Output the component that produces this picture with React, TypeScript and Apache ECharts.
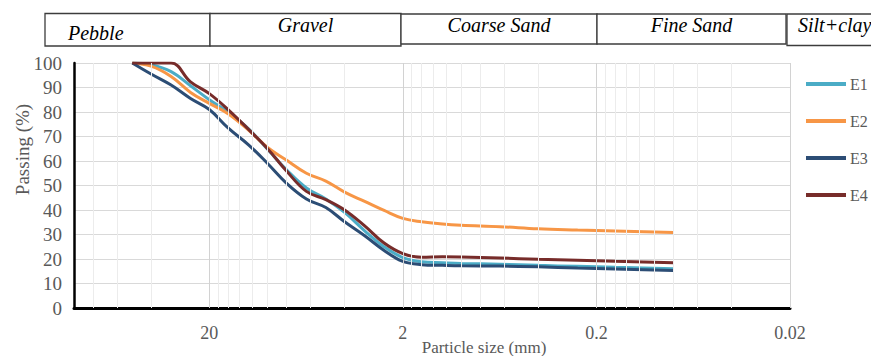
import React, { useEffect, useRef } from "react";
import * as echarts from "echarts";

// Sieve sizes (mm)
const SIZES = [50, 40, 31.5, 25, 20, 16, 12.5, 10, 8, 6.3, 5, 4, 3.15, 2.5, 2, 1.6, 1.25, 1, 0.63, 0.4, 0.25, 0.16, 0.08];
// Passing (%)
const E1 = [100, 99.3, 96.5, 90.7, 85, 80, 73, 64.8, 56.5, 49, 44.5, 39, 31.5, 25, 20.6, 18.9, 18.5, 18.2, 17.9, 17.4, 17, 16.6, 16];
const E2 = [100, 98.7, 94.5, 88, 83.5, 79.3, 72.5, 65.5, 60.4, 55, 51.8, 47.3, 43.5, 39.8, 36.6, 35.2, 34.3, 33.8, 33.2, 32.3, 31.8, 31.4, 30.8];
const E3 = [100, 95.5, 91, 85.5, 81, 73.5, 66.5, 59, 51, 44.5, 41, 35.2, 29.5, 23.5, 19, 17.7, 17.4, 17.2, 17.1, 16.8, 16.3, 15.9, 15.3];
const E4 = [100, 100, 100, 92.3, 87.5, 81, 72.8, 65, 56, 47.6, 44.2, 40, 33.5, 26.5, 22.2, 20.7, 20.9, 20.8, 20.4, 19.9, 19.5, 19.1, 18.5];

const SERIES_NAMES = ["E1", "E2", "E3", "E4"];
const X_LABELS = [20, 2, 0.2, 0.02];
const MAJOR_GRID = [20, 2, 0.2, 0.02];
const MINOR_GRID = [80, 60, 40, 18, 16, 14, 12, 10, 8, 6, 4, 1.8, 1.6, 1.4, 1.2, 1, 0.8, 0.6, 0.4, 0.18, 0.16, 0.14, 0.12, 0.1, 0.08, 0.06, 0.04];
const ZONES = ["Pebble", "Gravel", "Coarse Sand", "Fine Sand", "Silt+clay"];

const COLORS = ["#4bacc6", "#f79646", "#2c4d75", "#772c2a"];
const SERIF = '"Liberation Serif", "Times New Roman", serif';

export default function App() {
  const ref = useRef<HTMLDivElement>(null);

  useEffect(() => {
    const chart = echarts.init(ref.current!, null, { renderer: "svg" });
    const seriesData = [E1, E2, E3, E4];

    const boxes = [
      { x: 45, y: 13.5, w: 165, h: 32.5, tx: 68, ty: 33, align: "left" },
      { x: 210, y: 13.5, w: 191, h: 32.5, tx: 305.5, ty: 25, align: "center" },
      { x: 401, y: 14, w: 196, h: 30, tx: 499, ty: 25, align: "center" },
      { x: 597, y: 14, w: 189, h: 30, tx: 691.5, ty: 25, align: "center" },
      { x: 787, y: 14, w: 100, h: 31.5, tx: 798, ty: 25, align: "left" },
    ];
    const graphic: any[] = [];
    boxes.forEach((b, i) => {
      graphic.push({
        type: "rect",
        silent: true,
        shape: { x: b.x, y: b.y, width: b.w, height: b.h },
        style: { fill: "#fff", stroke: "#3c3c3c", lineWidth: 1.3 },
      });
      graphic.push({
        type: "text",
        silent: true,
        x: b.tx,
        y: b.ty,
        style: {
          text: ZONES[i],
          font: `italic 20px ${SERIF}`,
          fill: "#000",
          align: b.align,
          textAlign: b.align,
          verticalAlign: "middle",
          textVerticalAlign: "middle",
        },
      });
    });

    const series: any[] = seriesData.map((d, i) => ({
      name: SERIES_NAMES[i],
      type: "line",
      data: SIZES.map((s, j) => [s, d[j]]),
      smooth: 0.4,
      symbol: "none",
      lineStyle: { width: 3, color: COLORS[i] },
      itemStyle: { color: COLORS[i] },
      z: 3,
    }));
    series.unshift({
      type: "line",
      name: "grid",
      data: [],
      silent: true,
      z: 1,
      markLine: {
        silent: true,
        symbol: "none",
        animation: false,
        label: { show: false },
        data: [
          ...MINOR_GRID.map((v) => ({ xAxis: v, lineStyle: { color: "#ececec", width: 1, type: "solid" } })),
          ...MAJOR_GRID.map((v) => ({ xAxis: v, lineStyle: { color: "#d2d2d2", width: 1, type: "solid" } })),
        ],
      },
    });

    chart.setOption({
      animation: false,
      textStyle: { fontFamily: SERIF },
      grid: { left: 74, right: 81, top: 63, bottom: 48, containLabel: false, outerBoundsMode: "none" },
      legend: {
        orient: "vertical",
        left: 806,
        top: 76,
        padding: 0,
        itemWidth: 40,
        itemHeight: 4,
        itemGap: 21,
        icon: "rect",
        data: SERIES_NAMES,
        textStyle: { fontFamily: SERIF, fontSize: 16, color: "#595959", lineHeight: 16, padding: [0, 0, 0, -1] },
      },
      xAxis: {
        type: "log",
        logBase: 10,
        min: 0.02,
        max: 100,
        inverse: true,
        axisLine: { show: true, onZero: false, lineStyle: { color: "#000", width: 3 } },
        axisTick: { show: false },
        splitLine: { show: false },
        minorSplitLine: { show: false },
        axisLabel: {
          customValues: X_LABELS,
          formatter: (v: number) => String(Number(Number(v).toPrecision(6))),
          color: "#595959",
          fontFamily: SERIF,
          fontSize: 18,
          margin: 16,
        },
        name: "Particle size (mm)",
        nameLocation: "middle",
        nameGap: 31,
        nameMoveOverlap: false,
        nameTextStyle: { fontFamily: SERIF, fontSize: 17, color: "#595959", padding: [0, 0, 0, 104] },
      },
      yAxis: {
        type: "value",
        min: 0,
        max: 100,
        interval: 10,
        axisLine: { show: true, lineStyle: { color: "#000", width: 2.5 } },
        axisTick: { show: false },
        splitLine: { show: true, lineStyle: { color: "#d9d9d9", width: 1 } },
        axisLabel: { color: "#595959", fontFamily: SERIF, fontSize: 19, margin: 12 },
        name: "Passing (%)",
        nameLocation: "middle",
        nameGap: 42,
        nameMoveOverlap: false,
        nameTextStyle: { fontFamily: SERIF, fontSize: 19, color: "#595959", padding: [0, 0, 0, 72] },
      },
      graphic,
      series,
    });
    return () => chart.dispose();
  }, []);

  return <div ref={ref} style={{ position: "fixed", left: 0, top: 0, width: 871, height: 356, background: "#fff" }} />;
}
